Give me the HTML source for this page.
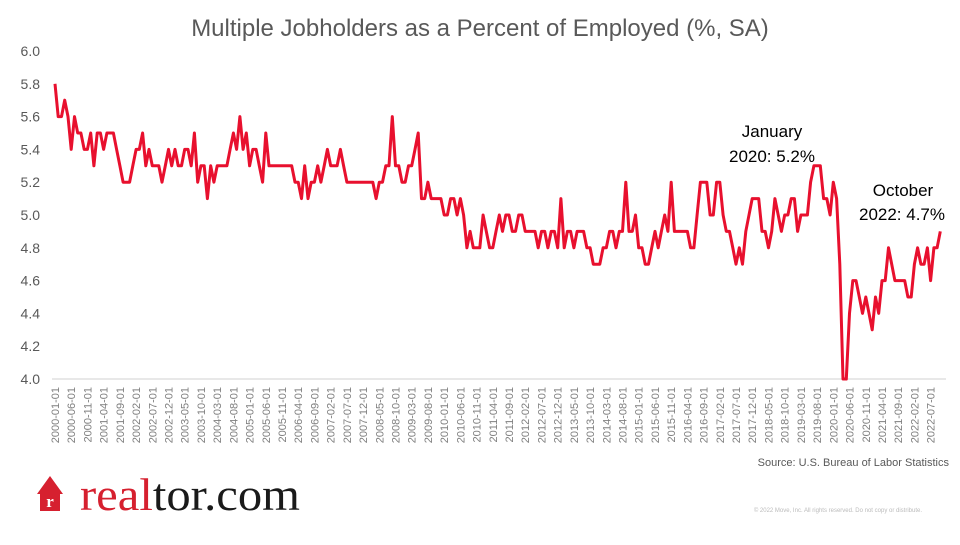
<!DOCTYPE html>
<html><head><meta charset="utf-8"><style>
body{margin:0;background:#fff;width:960px;height:540px;overflow:hidden;font-family:"Liberation Sans",Arial,sans-serif}
</style></head><body>
<svg id="s" width="960" height="540" xmlns="http://www.w3.org/2000/svg" font-family="Liberation Sans, Arial, sans-serif">
<text x="480" y="36" text-anchor="middle" font-size="24" fill="#595959">Multiple Jobholders as a Percent of Employed (%, SA)</text>
<line x1="52" y1="379" x2="946" y2="379" stroke="#d0d0d0" stroke-width="1"/>
<g id="yl" font-size="14" fill="#595959" text-anchor="end"></g>
<g id="xl" font-size="11" fill="#7f7f7f"></g>
<path id="ln" fill="none" stroke="#e8102e" stroke-width="3" stroke-linejoin="round"/>
<g font-size="17" fill="#000" text-anchor="middle">
<text x="772" y="137">January</text><text x="772" y="162">2020: 5.2%</text>
<text x="903" y="196">October</text><text x="902" y="220">2022: 4.7%</text>
</g>
<text x="949" y="466" text-anchor="end" font-size="11" fill="#595959">Source: U.S. Bureau of Labor Statistics</text>
<text x="922" y="512" text-anchor="end" font-size="6" fill="#bbb">© 2022 Move, Inc. All rights reserved. Do not copy or distribute.</text>
<polygon points="37,494 50,476 63,494 60,494 60,511 40,511 40,494" fill="#d6202f"/>
<text x="50" y="507" text-anchor="middle" font-family="Liberation Serif, serif" font-weight="bold" font-size="17" fill="#fff">r</text>
<text x="80" y="510" font-family="Liberation Serif, serif" font-size="46" textLength="220" lengthAdjust="spacingAndGlyphs"><tspan fill="#d6202f">real</tspan><tspan fill="#1a1a1a">tor.com</tspan></text>
</svg>
<script>
var d=[5.8,5.6,5.6,5.7,5.6,5.4,5.6,5.5,5.5,5.4,5.4,5.5,
5.3,5.5,5.5,5.4,5.5,5.5,5.5,5.4,5.3,5.2,5.2,5.2,
5.3,5.4,5.4,5.5,5.3,5.4,5.3,5.3,5.3,5.2,5.3,5.4,
5.3,5.4,5.3,5.3,5.4,5.4,5.3,5.5,5.2,5.3,5.3,5.1,
5.3,5.2,5.3,5.3,5.3,5.3,5.4,5.5,5.4,5.6,5.4,5.5,
5.3,5.4,5.4,5.3,5.2,5.5,5.3,5.3,5.3,5.3,5.3,5.3,
5.3,5.3,5.2,5.2,5.1,5.3,5.1,5.2,5.2,5.3,5.2,5.3,
5.4,5.3,5.3,5.3,5.4,5.3,5.2,5.2,5.2,5.2,5.2,5.2,
5.2,5.2,5.2,5.1,5.2,5.2,5.3,5.3,5.6,5.3,5.3,5.2,
5.2,5.3,5.3,5.4,5.5,5.1,5.1,5.2,5.1,5.1,5.1,5.1,
5.0,5.0,5.1,5.1,5.0,5.1,5.0,4.8,4.9,4.8,4.8,4.8,
5.0,4.9,4.8,4.8,4.9,5.0,4.9,5.0,5.0,4.9,4.9,5.0,
5.0,4.9,4.9,4.9,4.9,4.8,4.9,4.9,4.8,4.9,4.9,4.8,
5.1,4.8,4.9,4.9,4.8,4.9,4.9,4.9,4.8,4.8,4.7,4.7,
4.7,4.8,4.8,4.9,4.9,4.8,4.9,4.9,5.2,4.9,4.9,5.0,
4.8,4.8,4.7,4.7,4.8,4.9,4.8,4.9,5.0,4.9,5.2,4.9,
4.9,4.9,4.9,4.9,4.8,4.8,5.0,5.2,5.2,5.2,5.0,5.0,
5.2,5.2,5.0,4.9,4.9,4.8,4.7,4.8,4.7,4.9,5.0,5.1,
5.1,5.1,4.9,4.9,4.8,4.9,5.1,5.0,4.9,5.0,5.0,5.1,
5.1,4.9,5.0,5.0,5.0,5.2,5.3,5.3,5.3,5.1,5.1,5.0,
5.2,5.1,4.7,4.0,4.0,4.4,4.6,4.6,4.5,4.4,4.5,4.4,
4.3,4.5,4.4,4.6,4.6,4.8,4.7,4.6,4.6,4.6,4.6,4.5,
4.5,4.7,4.8,4.7,4.7,4.8,4.6,4.8,4.8,4.9,4.9,4.7];
d.length=274;
function X(i){return 55+3.243*i}
function Y(v){return 379-(v-4)*164}
var p="";for(var i=0;i<d.length;i++)p+=(i?"L":"M")+X(i).toFixed(1)+","+Y(d[i]).toFixed(1);
document.getElementById("ln").setAttribute("d",p);
var h="";
for(var v=0;v<=10;v++){var val=4+v*0.2;h+='<text x="40" y="'+(Y(val)+5)+'">'+val.toFixed(1)+'</text>';}
document.getElementById("yl").innerHTML=h;
h="";
for(var i=0;i<274;i+=5){var y=2000+Math.floor(i/12),m=i%12+1;var s=y+"-"+(m<10?"0":"")+m+"-01";var x=X(i);
h+='<text transform="translate('+(x+4)+',387) rotate(-90)" text-anchor="end">'+s+'</text>';}
document.getElementById("xl").innerHTML=h;
</script>
</body></html>
